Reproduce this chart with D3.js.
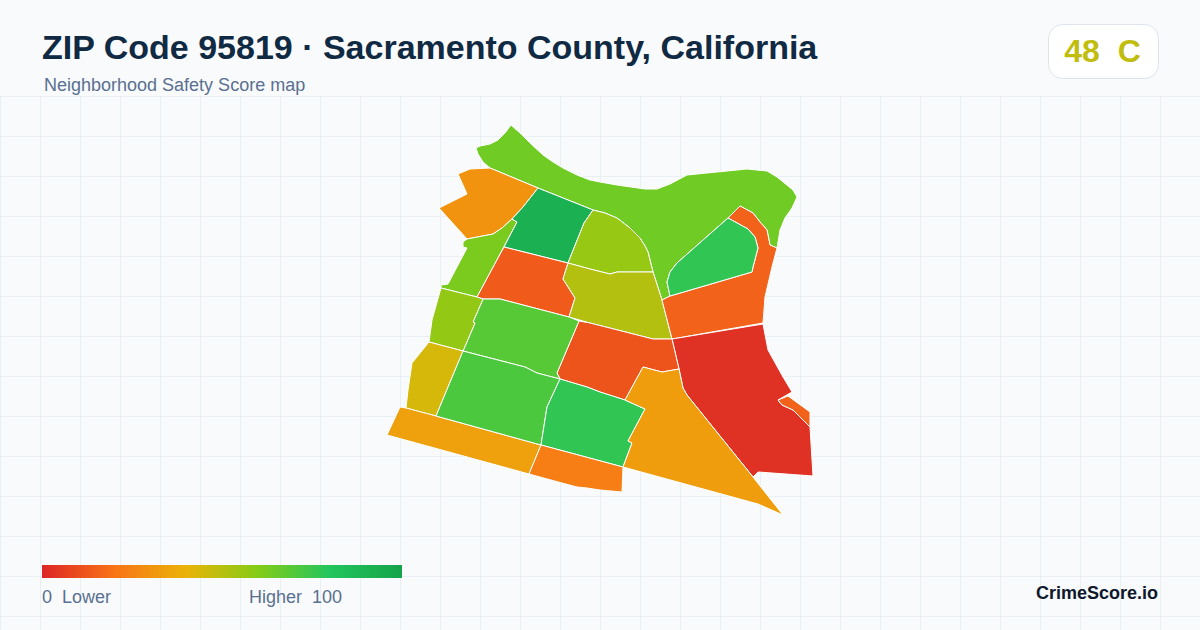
<!DOCTYPE html>
<html>
<head>
<meta charset="utf-8">
<script src="https://cdn.jsdelivr.net/npm/d3@7"></script>
<style>
  html, body { margin: 0; padding: 0; background: #f8fafc; }
  svg { display: block; }
  text { font-family: "Liberation Sans", Arial, sans-serif; }
</style>
</head>
<body>
<div id="chart"></div>
<script>
const areaNames = ["north", "nwOrange", "nwStrip", "darkGreen", "redOrange", "oliveTop", "oliveMid",
  "eastOrange", "enclosed", "red", "sliver", "center", "greenUpper", "oliveWest", "yellow",
  "stripWest", "greenLower", "greenSouth", "orangeSouth", "orangeLarge"];
const areaScores = [64, 30, 62, 92, 13.5, 56.5, 50.5, 15.5, 77, 3, 15.5, 12, 69, 57, 44, 34.5, 71.5, 77, 23.5, 33];

const areaRings = [
  [[96,28],[100,26],[110,24],[118,20],[125,13],[131,5],[140,13],[150,23],[163,35],[173,42],[183,48],[197,55],[210,60],[220,62],[237,65],[265,69],[277,69],[290,64],[307,55],[337,52],[367,49],[387,51],[397,57],[413,70],[417,77],[412,88],[405,98],[400,110],[397,128],[390,125],[387,110],[380,102],[373,93],[360,86],[348,98],[297,143],[290,152],[287,162],[290,176],[282,180],[273,152],[268,132],[265,126],[260,118],[250,108],[237,98],[225,93],[213,90],[158,68],[110,48],[103,42],[98,34]],
  [[158,68],[110,48],[90,49],[78,54],[87,74],[59,88],[87,119],[113,114],[122,108],[132,99],[143,87]],
  [[132,99],[137,102],[118,138],[97,177],[61,168],[61,165],[68,164],[87,128],[83,127],[83,122],[87,119],[113,114],[122,108]],
  [[158,68],[213,90],[204,103],[188,143],[124,127],[137,102],[132,99],[143,87]],
  [[124,127],[188,143],[183,159],[195,178],[189,197],[120,179],[103,179],[97,177],[118,138]],
  [[213,90],[225,93],[237,98],[250,108],[260,118],[265,126],[268,132],[273,152],[237,152],[230,154],[210,149],[188,143],[204,103]],
  [[188,143],[210,149],[230,154],[237,152],[273,152],[282,180],[292,219],[273,219],[210,203],[189,197],[195,178],[183,159]],
  [[282,180],[290,176],[372,152],[373,147],[378,128],[375,117],[368,109],[348,98],[360,86],[373,93],[380,102],[387,110],[390,125],[397,128],[392,147],[385,177],[383,203],[292,219]],
  [[348,98],[368,109],[375,117],[378,128],[373,147],[372,152],[290,176],[287,162],[290,152],[297,143]],
  [[292,219],[383,204],[388,230],[403,257],[412,272],[398,280],[402,285],[413,290],[430,307],[433,356],[378,352],[373,357],[307,275],[303,268],[299,249]],
  [[408,276],[430,292],[430,307],[413,290],[402,285],[398,280]],
  [[199,201],[210,203],[273,219],[292,219],[299,249],[282,252],[263,247],[245,280],[220,272],[207,267],[180,259],[177,253]],
  [[103,179],[120,179],[189,197],[199,201],[177,253],[180,259],[157,253],[145,247],[83,231],[95,203],[93,202]],
  [[61,168],[97,177],[103,179],[93,202],[95,203],[83,231],[49,222],[52,200]],
  [[49,222],[83,231],[56,296],[26,288],[28,270],[32,243]],
  [[20,287],[26,288],[56,296],[161,325],[149,354],[7,315]],
  [[83,231],[145,247],[157,253],[180,259],[167,287],[161,325],[56,296]],
  [[180,259],[207,267],[220,272],[245,280],[265,289],[248,321],[252,323],[243,347],[161,325],[167,287]],
  [[161,325],[243,347],[242,372],[220,370],[207,368],[197,367],[182,363],[149,354]],
  [[263,247],[282,252],[299,249],[303,268],[307,275],[373,357],[403,395],[378,384],[243,347],[252,323],[248,321],[265,289],[245,280]]
];

const scoreStops = [0, 20, 40, 60, 80, 100];
const scoreColors = ["#dc2626", "#f97316", "#eab308", "#84cc16", "#22c55e", "#16a34a"];

const titleText = "ZIP Code 95819 · Sacramento County, California";
const subtitleText = "Neighborhood Safety Score map";
const overallScore = 48;
const overallGrade = "C";
const brandText = "CrimeScore.io";

const width = 1200, height = 630;
const mapOrigin = [380, 120];
const gridStep = 40, gridTop = 96.5;

const svg = d3.select("#chart").append("svg")
  .attr("width", width)
  .attr("height", height);

const color = d3.scaleLinear().domain(scoreStops).range(scoreColors).clamp(true);

// Gradient for the legend bar
const gradient = svg.append("defs").append("linearGradient")
  .attr("id", "legend-gradient");
gradient.selectAll("stop")
  .data(scoreStops)
  .join("stop")
  .attr("offset", (d) => d + "%")
  .attr("stop-color", (d) => color(d));

svg.append("rect")
  .attr("width", width)
  .attr("height", height)
  .attr("fill", "#f8fafc");

// Background grid, starts under the header
const grid = svg.append("g").attr("stroke", "#e8f0f5").attr("stroke-width", 1);
grid.selectAll(".grid-h")
  .data(d3.range(gridTop, height, gridStep))
  .join("line")
  .attr("class", "grid-h")
  .attr("x1", 0).attr("x2", width)
  .attr("y1", (d) => d).attr("y2", (d) => d);
grid.selectAll(".grid-v")
  .data(d3.range(0.5, width, gridStep))
  .join("line")
  .attr("class", "grid-v")
  .attr("x1", (d) => d).attr("x2", (d) => d)
  .attr("y1", gridTop).attr("y2", height);

// Header
svg.append("text")
  .attr("x", 42).attr("y", 59)
  .attr("font-size", 34).attr("font-weight", 700)
  .attr("fill", "#102a43")
  .text(titleText);
svg.append("text")
  .attr("x", 44).attr("y", 91)
  .attr("font-size", 18)
  .attr("fill", "#5a7090")
  .text(subtitleText);

// Score badge
svg.append("rect")
  .attr("x", 1048.5).attr("y", 24.5)
  .attr("width", 110).attr("height", 54).attr("rx", 14)
  .attr("fill", "#ffffff").attr("stroke", "#dde4ee");
svg.append("text")
  .attr("x", 1102.5).attr("y", 62)
  .attr("text-anchor", "middle")
  .attr("font-size", 32).attr("font-weight", 700)
  .attr("fill", color(overallScore))
  .attr("xml:space", "preserve")
  .text(overallScore + "  " + overallGrade);

// Map. GeoJSON rings have to end on their first point
const features = areaRings.map((ring, i) => ({
  type: "Feature",
  properties: { name: areaNames[i], score: areaScores[i] },
  geometry: { type: "Polygon", coordinates: [[...ring, ring[0]]] }
}));
const path = d3.geoPath(d3.geoIdentity().translate(mapOrigin));

svg.append("g").selectAll(".area")
  .data(features)
  .join("path")
  .attr("class", "area")
  .attr("d", path)
  .attr("fill", (d) => color(d.properties.score))
  .attr("stroke", "#ffffff")
  .attr("stroke-width", 1)
  .attr("stroke-linejoin", "round");

// Legend
svg.append("rect")
  .attr("x", 42).attr("y", 565)
  .attr("width", 360).attr("height", 13)
  .attr("fill", "url(#legend-gradient)");
svg.append("text")
  .attr("x", 42).attr("y", 603)
  .attr("font-size", 18).attr("fill", "#5a7090")
  .attr("xml:space", "preserve")
  .text("0  Lower");
svg.append("text")
  .attr("x", 249).attr("y", 603)
  .attr("font-size", 18).attr("fill", "#5a7090")
  .attr("xml:space", "preserve")
  .text("Higher  100");

svg.append("text")
  .attr("x", 1158).attr("y", 599)
  .attr("text-anchor", "end")
  .attr("font-size", 18).attr("font-weight", 700)
  .attr("fill", "#0f172a")
  .text(brandText);
</script>
</body>
</html>
